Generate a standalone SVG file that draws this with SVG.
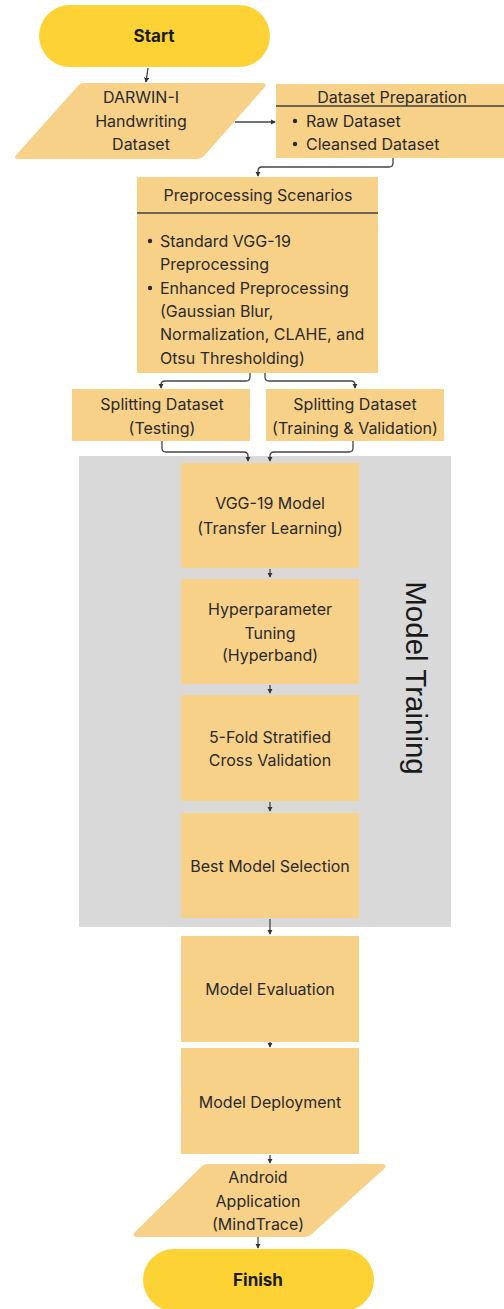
<svg xmlns="http://www.w3.org/2000/svg" width="504" height="1309" viewBox="0 0 504 1309">
<defs>
<style>
.box{fill:#F8D189;}
.pill{fill:#FDD235;}
.t{font-family:Inter,"DejaVu Sans",sans-serif;font-size:16px;fill:#2a2a2a;}
.c{text-anchor:middle;}
.b{font-weight:bold;font-size:17px;fill:#1a1a1a;}
.ln{fill:none;stroke:#3f3f3f;stroke-width:1.3;}
.con{fill:none;stroke:#444;stroke-width:1.3;marker-end:url(#ah);}
</style>
<marker id="ah" viewBox="0 0 6 6" refX="5" refY="3" markerWidth="4" markerHeight="4" orient="auto">
<path d="M0,0 L6,3 L0,6 Z" fill="#333"/>
</marker>
</defs>
<rect width="504" height="1309" fill="#ffffff"/>

<g id="model-training">
<rect x="79" y="456" width="372" height="471" fill="#D9D9D9"/>
<text transform="translate(406,678) rotate(90)" font-family="'Liberation Sans',Arial,sans-serif" font-size="29.5" fill="#1a1a1a" text-anchor="middle">Model Training</text>
</g>

<g id="start">
<rect class="pill" x="39" y="5" width="231" height="62" rx="31"/>
<text class="t c b" x="154" y="42">Start</text>
</g>

<g id="darwin">
<path class="box" d="M84,83 L262,83 Q268,83 264,88 L205,155 Q202,159 196,159 L19,159 Q12,159 17,154 L76,88 Q80,83 84,83 Z"/>
<text class="t c" x="141" y="103">DARWIN-I</text>
<text class="t c" x="141" y="127">Handwriting</text>
<text class="t c" x="141" y="150">Dataset</text>
</g>

<g id="dataset-prep">
<rect class="box" x="276" y="84" width="228" height="74"/>
<line class="ln" x1="276" y1="106" x2="504" y2="106"/>
<text class="t c" x="392" y="103">Dataset Preparation</text>
<circle cx="295" cy="121" r="2.2" fill="#2a2a2a"/>
<text class="t" x="306" y="127">Raw Dataset</text>
<circle cx="295" cy="144" r="2.2" fill="#2a2a2a"/>
<text class="t" x="306" y="150">Cleansed Dataset</text>
</g>

<g id="preprocessing">
<rect class="box" x="137" y="177" width="241" height="196"/>
<line class="ln" x1="137" y1="213" x2="378" y2="213"/>
<text class="t c" x="258" y="201">Preprocessing Scenarios</text>
<circle cx="150" cy="241" r="2.2" fill="#2a2a2a"/>
<text class="t" x="160" y="247">Standard VGG-19</text>
<text class="t" x="160" y="270">Preprocessing</text>
<circle cx="150" cy="288" r="2.2" fill="#2a2a2a"/>
<text class="t" x="160" y="294">Enhanced Preprocessing</text>
<text class="t" x="160" y="317">(Gaussian Blur,</text>
<text class="t" x="160" y="340">Normalization, CLAHE, and</text>
<text class="t" x="160" y="364">Otsu Thresholding)</text>
</g>

<g id="split-test">
<rect class="box" x="72" y="389" width="178" height="52"/>
<text class="t c" x="162" y="410">Splitting Dataset</text>
<text class="t c" x="162" y="434">(Testing)</text>
</g>

<g id="split-train">
<rect class="box" x="266" y="389" width="178" height="52"/>
<text class="t c" x="355" y="410">Splitting Dataset</text>
<text class="t c" x="355" y="434">(Training &amp; Validation)</text>
</g>

<g id="vgg">
<rect class="box" x="181" y="463" width="178" height="105"/>
<text class="t c" x="270" y="509">VGG-19 Model</text>
<text class="t c" x="270" y="534">(Transfer Learning)</text>
</g>

<g id="hyper">
<rect class="box" x="181" y="579" width="178" height="105"/>
<text class="t c" x="270" y="615">Hyperparameter</text>
<text class="t c" x="270" y="639">Tuning</text>
<text class="t c" x="270" y="661">(Hyperband)</text>
</g>

<g id="kfold">
<rect class="box" x="181" y="695" width="178" height="106"/>
<text class="t c" x="270" y="743">5-Fold Stratified</text>
<text class="t c" x="270" y="766">Cross Validation</text>
</g>

<g id="best">
<rect class="box" x="181" y="813" width="178" height="105"/>
<text class="t c" x="270" y="872">Best Model Selection</text>
</g>

<g id="eval">
<rect class="box" x="181" y="936" width="178" height="106"/>
<text class="t c" x="270" y="995">Model Evaluation</text>
</g>

<g id="deploy">
<rect class="box" x="181" y="1048" width="178" height="106"/>
<text class="t c" x="270" y="1108">Model Deployment</text>
</g>

<g id="android">
<path class="box" d="M208,1164 L382,1164 Q388,1164 384,1169 L313,1233 Q309,1237 303,1237 L138,1237 Q131,1237 135,1232 L200,1168 Q203,1164 208,1164 Z"/>
<text class="t c" x="258" y="1183">Android</text>
<text class="t c" x="258" y="1207">Application</text>
<text class="t c" x="258" y="1230">(MindTrace)</text>
</g>

<g id="finish">
<rect class="pill" x="143" y="1249" width="231" height="62" rx="31"/>
<text class="t c b" x="258" y="1286">Finish</text>
</g>

<g id="connectors">
<path class="con" d="M148,68 L146,82"/>
<path class="con" d="M235,122 L275,122"/>
<path class="con" d="M393,158 L393,163 Q393,167 389,167 L262,167 Q258,167 258,171 L258,176"/>
<path class="con" d="M250,373 L250,377 Q250,381 246,381 L165,381 Q161,381 161,385 L161,388"/>
<path class="con" d="M265,373 L265,377 Q265,381 269,381 L351,381 Q355,381 355,385 L355,388"/>
<path class="con" d="M162,441 L162,448 Q162,452 166,452 L244,452 Q248,452 248,456 L248,461"/>
<path class="con" d="M353,441 L353,448 Q353,452 349,452 L274,452 Q270,452 270,456 L270,461"/>
<path class="con" d="M270,569 L270,577"/>
<path class="con" d="M270,685 L270,693"/>
<path class="con" d="M270,802 L270,811"/>
<path class="con" d="M270,919 L270,934"/>
<path class="con" d="M270,1042 L270,1047"/>
<path class="con" d="M270,1155 L270,1163"/>
<path class="con" d="M258,1237 L258,1248"/>
</g>
</svg>
